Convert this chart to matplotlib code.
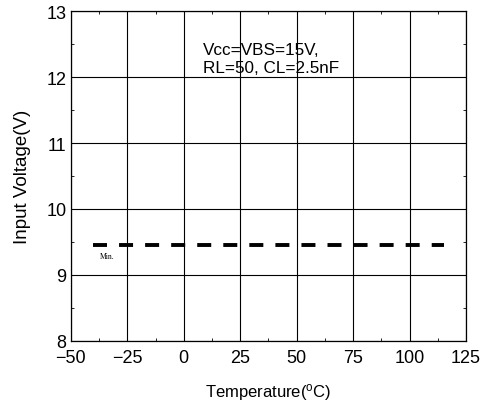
import matplotlib
matplotlib.use("Agg")
import matplotlib.pyplot as plt
from matplotlib.ticker import MultipleLocator

plt.rcParams['font.family'] = ['Liberation Sans', 'DejaVu Sans']
plt.rcParams['mathtext.fontset'] = 'custom'
plt.rcParams['mathtext.rm'] = 'Liberation Sans'
plt.rcParams['mathtext.it'] = 'Liberation Sans'

# minimum input voltage vs temperature
temperature = [-40, -25, 0, 25, 50, 75, 100, 115]
v_min = [9.45, 9.45, 9.45, 9.45, 9.45, 9.45, 9.45, 9.45]

x_ticks = [-50, -25, 0, 25, 50, 75, 100, 125]
y_ticks = [8, 9, 10, 11, 12, 13]

fig = plt.figure(figsize=(4.82, 4.06), dpi=100)
ax = fig.add_axes([0.147, 0.158, 0.820, 0.812])

ax.plot(temperature, v_min, color='black', lw=2.8, dashes=(3.6, 3.1))

ax.set_xlim(-50, 125)
ax.set_ylim(8, 13)
ax.set_xticks(x_ticks)
ax.set_yticks(y_ticks)
ax.set_xticklabels([str(t).replace('-', '\u2212') for t in x_ticks])
ax.xaxis.set_minor_locator(MultipleLocator(12.5))
ax.yaxis.set_minor_locator(MultipleLocator(0.5))
ax.tick_params(which='major', length=0, labelsize=13)
ax.tick_params(axis='x', which='major', pad=6)
ax.tick_params(axis='y', which='major', pad=3)
ax.tick_params(which='minor', direction='in', length=2.5, width=0.6,
               top=True, right=True)
ax.grid(True, which='major', color='black', lw=0.8)
for s in ax.spines.values():
    s.set_linewidth(0.9)

ax.set_xlabel(r'Temperature($^{\rm o}$C)', fontsize=12, labelpad=11)
ax.set_ylabel('Input Voltage(V)', fontsize=13.5, labelpad=11)

ax.text(8.5, 12.42, 'Vcc=VBS=15V,', fontsize=12.3, va='center', ha='left')
ax.text(8.5, 12.14, 'RL=50, CL=2.5nF', fontsize=12.3, va='center', ha='left')
ax.text(-37, 9.29, 'Min.', fontsize=5.5, family='Liberation Serif',
        va='center', ha='left')

fig.savefig('out.png', dpi=100)
